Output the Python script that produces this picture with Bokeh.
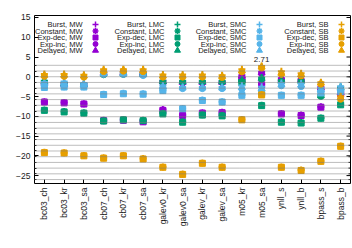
import numpy as np
from bokeh.plotting import figure
from bokeh.models import FixedTicker, Range1d, Span, Label, ColumnDataSource
from bokeh.embed import file_html
from bokeh.resources import INLINE

ssp = ["bc03_ch", "bc03_kr", "bc03_sa", "cb07_ch", "cb07_kr", "cb07_sa",
       "galev0_kr", "galev0_sa", "galev_kr", "galev_sa", "m05_kr", "m05_sa",
       "ynll_s", "ynll_b", "bpass_s", "bpass_b"]
models = ["MW", "LMC", "SMC", "SB"]
sfhs = ["Burst", "Constant", "Exp-dec", "Exp-inc", "Delayed"]

# MW
burst_mw   = [-1.2, -1.6, -1.8, 1.2, 1.2, 1.1, -1.0, -1.2, -1.2, -1.2, 0.4, 1.3, -0.4, -0.6, -2.6, -3.9]
const_mw   = [-6.3, -6.5, -6.8, -11.0, -10.9, -11.3, -8.3, -9.7, -9.1, -9.0, -0.6, -1.9, -9.3, -9.7, -7.6, -4.3]
expdec_mw  = [-6.4, -6.6, -6.9, -11.1, -11.0, -11.4, -8.5, -9.8, -9.2, -9.1, -0.7, -2.0, -9.4, -9.8, -7.7, -4.4]
expinc_mw  = [-1.6, -2.2, -2.3, 0.8, 0.8, 0.7, -1.5, -1.6, -1.6, -1.5, 0.0, 0.8, -0.7, -0.9, -3.0, -4.1]
delayed_mw = [-1.4, -1.9, -2.0, 1.0, 1.0, 0.9, -1.3, -1.4, -1.4, -1.4, 0.2, 1.0, -0.6, -0.8, -2.8, -4.0]
# LMC
burst_lmc   = [-1.0, -1.5, -1.7, 0.8, 0.9, 0.8, -1.0, -1.0, -1.0, -1.0, -0.8, -0.2, -0.9, -0.9, -4.6, -2.6]
const_lmc   = [-8.4, -8.8, -9.1, -11.1, -10.8, -11.0, -9.3, -11.4, -9.6, -9.8, -1.4, -7.2, -11.4, -11.6, -10.4, -7.0]
expdec_lmc  = [-8.5, -8.9, -9.2, -11.2, -10.9, -11.1, -9.4, -11.5, -9.7, -9.9, -1.5, -7.3, -11.5, -11.7, -10.5, -7.1]
expinc_lmc  = [-1.4, -2.0, -2.2, 0.5, 0.6, 0.5, -1.4, -1.4, -1.4, -1.4, -1.2, -0.6, -1.3, -1.3, -5.0, -3.0]
delayed_lmc = [-1.2, -1.8, -2.0, 0.7, 0.7, 0.6, -1.2, -1.2, -1.2, -1.2, -1.0, -0.4, -1.1, -1.1, -4.8, -2.8]
# SMC
burst_smc   = [-1.3, -1.2, -1.6, 1.0, 1.0, 0.7, -2.2, -2.6, -2.6, -2.6, -2.2, -2.5, -1.6, -1.7, -2.8, -2.4]
const_smc   = [-2.6, -2.5, -2.5, -4.4, -4.2, -4.3, -3.4, -8.0, -5.9, -6.3, -4.6, -4.1, -4.6, -4.6, -4.0, -3.6]
expdec_smc  = [-2.7, -2.6, -2.6, -4.5, -4.3, -4.4, -3.5, -8.1, -6.0, -6.4, -4.7, -4.2, -4.7, -4.7, -4.1, -3.7]
expinc_smc  = [-2.0, -1.9, -2.1, 0.6, 0.6, 0.3, -2.8, -3.0, -3.0, -3.0, -3.2, -3.4, -2.3, -2.5, -3.6, -3.2]
delayed_smc = [-1.7, -1.6, -1.9, 0.8, 0.8, 0.5, -2.5, -2.8, -2.8, -2.8, -2.7, -3.0, -2.0, -2.1, -3.2, -2.9]
# SB
burst_sb   = [0.7, 0.7, 0.5, 1.9, 1.9, 1.9, 0.6, 0.6, 0.6, 0.4, 1.9, 2.71, 1.4, 0.9, -1.4, -4.9]
const_sb   = [-19.1, -19.2, -19.9, -20.5, -19.9, -20.7, -22.8, -24.6, -21.8, -22.8, -10.8, -4.5, -22.8, -23.6, -21.3, -17.5]
expdec_sb  = [-19.2, -19.3, -20.0, -20.6, -20.0, -20.8, -22.9, -24.7, -21.9, -22.9, -10.9, -4.6, -22.9, -23.7, -21.4, -17.6]
expinc_sb  = [0.1, 0.1, -0.1, 1.3, 1.4, 1.3, -0.1, -0.1, -0.1, -0.2, 1.2, 2.2, 0.6, 0.2, -1.9, -5.7]
delayed_sb = [0.4, 0.4, 0.2, 1.6, 1.7, 1.6, 0.2, 0.2, 0.2, 0.1, 1.5, 2.5, 0.9, 0.5, -1.6, -5.3]

yticks = [-25, -20, -15, -10, -5, 0, 5, 10, 15]

data = {
    "MW":  [burst_mw, const_mw, expdec_mw, expinc_mw, delayed_mw],
    "LMC": [burst_lmc, const_lmc, expdec_lmc, expinc_lmc, delayed_lmc],
    "SMC": [burst_smc, const_smc, expdec_smc, expinc_smc, delayed_smc],
    "SB":  [burst_sb, const_sb, expdec_sb, expinc_sb, delayed_sb],
}
colors = {"MW": "#9400d3", "LMC": "#009e73", "SMC": "#56b4e9", "SB": "#e69f00"}
markers = {"Burst": "cross", "Constant": "asterisk", "Exp-dec": "square",
           "Exp-inc": "circle", "Delayed": "triangle"}
msize = {"Burst": 7, "Constant": 7, "Exp-dec": 6, "Exp-inc": 6, "Delayed": 7}
lsize = {"Burst": 6, "Constant": 6, "Exp-dec": 5, "Exp-inc": 5, "Delayed": 6}

W, H = 352, 248
L, R, T, B = 34, 350, 15, 183
X0, X1 = 0.5, 16.5
Y0, Y1 = -27.0, 15.5

def dx(px):
    return X0 + (px - L) / (R - L) * (X1 - X0)

def dy(py):
    return Y1 - (py - T) / (B - T) * (Y1 - Y0)

FONT = "Liberation Sans"
TXT = "#1a1a1a"

p = figure(width=W, height=H, output_backend="svg", toolbar_location=None,
           x_range=Range1d(X0, X1), y_range=Range1d(Y0, Y1),
           min_border_left=L, min_border_right=W - R, min_border_top=T,
           min_border_bottom=H - B)
p.background_fill_color = "white"
p.border_fill_color = "white"
p.outline_line_color = "black"
p.outline_line_width = 1
p.grid.visible = False

guide = [2.9 - 1.445 * k for k in range(21)]
for g in guide:
    p.add_layout(Span(location=g, dimension="width",
                      line_color="#7a7a7a", line_dash="1 1", line_width=1))

# right-side mirror ticks
p.segment(x0=[dx(R - 4)] * len(yticks), y0=yticks, x1=[X1] * len(yticks), y1=yticks,
          line_color="black", line_width=1)
p.segment(x0=[dx(R - 2)] * len(guide), y0=guide, x1=[X1] * len(guide), y1=guide,
          line_color="black", line_width=1)

xs = list(range(1, len(ssp) + 1))
for m in models:
    for s, vals in zip(sfhs, data[m]):
        src = ColumnDataSource(dict(x=xs, y=vals))
        mk = markers[s]
        if mk in ("cross", "asterisk"):
            p.scatter("x", "y", source=src, marker=mk, size=msize[s],
                      line_color=colors[m], line_width=2)
        else:
            p.scatter("x", "y", source=src, marker=mk, size=msize[s],
                      fill_color=colors[m], line_color=colors[m], line_width=1)

# max annotation
mx = max(burst_sb)
imx = burst_sb.index(mx)
p.add_layout(Label(x=imx + 1, y=mx, text=f"{mx:.2f}", text_align="center",
                   text_baseline="bottom", y_offset=4, text_font=FONT,
                   text_font_size="8px", text_color=TXT))

# legend (gnuplot style: text then symbol)
text_right = [82, 164, 246, 328]
row_y = [24, 30.5, 37, 43.5, 50]
for ci, m in enumerate(models):
    for ri, s in enumerate(sfhs):
        p.add_layout(Label(x=dx(text_right[ci]), y=dy(row_y[ri]), text=f"{s}, {m}",
                           text_align="right", text_baseline="middle",
                           text_font=FONT, text_font_size="7.5px", text_color=TXT))
        mk = markers[s]
        kw = dict(marker=mk, size=lsize[s], line_color=colors[m])
        if mk in ("cross", "asterisk"):
            kw["line_width"] = 1.5
        else:
            kw["fill_color"] = colors[m]
        p.scatter([dx(text_right[ci] + 13)], [dy(row_y[ri])], **kw)

# axes
p.xaxis.ticker = FixedTicker(ticks=xs)
p.xaxis.major_label_overrides = {i: n for i, n in zip(xs, ssp)}
p.xaxis.major_label_orientation = np.pi / 2
p.yaxis.ticker = FixedTicker(ticks=yticks, minor_ticks=guide)
for ax in (p.xaxis[0], p.yaxis[0]):
    ax.axis_line_color = None
    ax.major_tick_in = 4
    ax.major_tick_out = 0
    ax.minor_tick_in = 2
    ax.minor_tick_out = 0
    ax.major_tick_line_color = "black"
    ax.minor_tick_line_color = "black"
    ax.major_label_text_font = FONT
    ax.major_label_text_font_size = "8.5px"
    ax.major_label_text_color = TXT
    ax.major_label_standoff = 4
p.xaxis.minor_tick_line_color = None

# x label
p.add_layout(Label(x=dx(184), y=dy(241), text="SSP", text_align="center",
                   text_baseline="middle", text_font=FONT,
                   text_font_size="7.5px", text_color=TXT))

# y label with subscript
p.add_layout(Label(x=dx(12), y=dy(113), text="Ln(B", angle=np.pi / 2,
                   text_align="left", text_baseline="middle", text_font=FONT,
                   text_font_size="8px", text_color=TXT))
p.add_layout(Label(x=dx(14), y=dy(94), text="θ0", angle=np.pi / 2,
                   text_align="left", text_baseline="middle", text_font=FONT,
                   text_font_size="6px", text_color=TXT))
p.add_layout(Label(x=dx(12), y=dy(88), text=")", angle=np.pi / 2,
                   text_align="left", text_baseline="middle", text_font=FONT,
                   text_font_size="8px", text_color=TXT))

# title
p.add_layout(Label(x=dx(179), y=dy(7), text="ULTRAVISTA114558 (PEG)",
                   text_align="center", text_baseline="middle", text_font=FONT,
                   text_font_size="7.5px", text_color=TXT))

open("out.html", "w").write(file_html(p, INLINE))
